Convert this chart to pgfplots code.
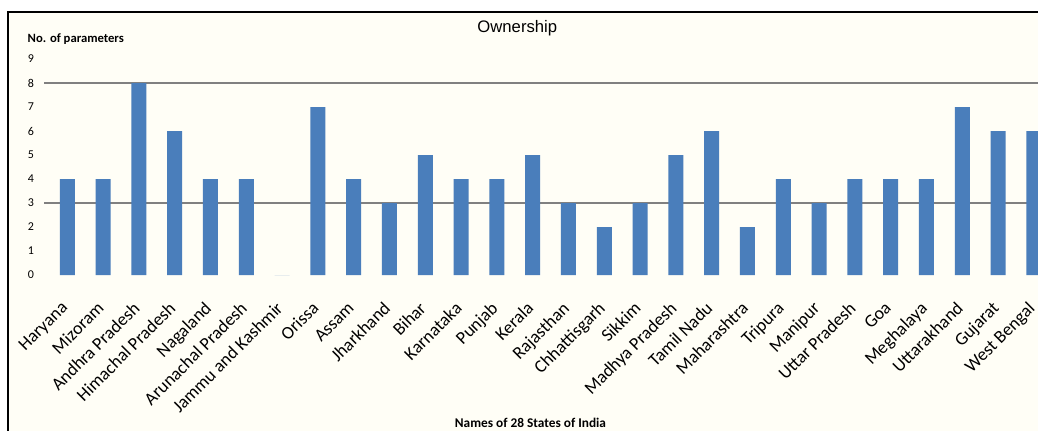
\documentclass[border=0pt]{standalone}
\usepackage{pgfplots}
\pgfplotsset{compat=1.18}
\usepackage{fontspec}
\setmainfont{Carlito}
\newfontfamily\titlefont{Liberation Sans}

\definecolor{barblue}{RGB}{74,126,187}
\definecolor{chartbg}{RGB}{255,254,246}
\definecolor{gridgray}{RGB}{128,128,128}

\begin{document}
\begin{tikzpicture}
  % page size and chart frame (units of 0.75pt)
  \path[use as bounding box] (0,0) rectangle (778.5pt,322.5pt);
  \clip (0,0) rectangle (778.5pt,322.5pt);
  \fill[chartbg] (6pt,-5pt) rectangle (790pt,313.5pt);
  \draw[line width=1.3pt] (6pt,-5pt) -- (6pt,313.5pt) -- (790pt,313.5pt);

  \begin{axis}[
    at={(33pt,116.25pt)}, anchor=south west,
    scale only axis,
    width=758.5pt, height=169.2pt,
    xmin=-0.65, xmax=27.6,
    ymin=0, ymax=9.4,
    axis line style={draw=none},
    major tick length=0pt,
    ytick={0,1,...,9},
    /pgf/number format/assume math mode=true,
    yticklabel style={font=\fontsize{9}{10}\selectfont, xshift=-4pt},
    extra y ticks={3,8},
    extra y tick labels={},
    extra y tick style={grid=major, major grid style={gridgray, line width=0.8pt}},
    xtick={0,1,...,27},
    xticklabels={Haryana, Mizoram, Andhra Pradesh, Himachal Pradesh, Nagaland,
      Arunachal Pradesh, Jammu and Kashmir, Orissa, Assam, Jharkhand, Bihar,
      Karnataka, Punjab, Kerala, Rajasthan, Chhattisgarh, Sikkim,
      Madhya Pradesh, Tamil Nadu, Maharashtra, Tripura, Manipur,
      Uttar Pradesh, Goa, Meghalaya, Uttarakhand, Gujarat, West Bengal},
    xticklabel style={font=\fontsize{13.5}{15}\selectfont, inner sep=0pt,
      xshift=-5.25pt, yshift=-19pt, rotate=45, anchor=north east},
    title={Ownership},
    title style={font=\titlefont\fontsize{12.5}{14}\selectfont,
      at={(axis description cs:0.468,1.06)}, anchor=center},
    ylabel={No. of parameters},
    ylabel style={font=\bfseries\fontsize{9.5}{11}\selectfont, rotate=-90,
      at={(axis description cs:-0.0208,1.046)}, anchor=west},
    xlabel={Names of 28 States of India},
    xlabel style={font=\bfseries\fontsize{10}{11}\selectfont,
      at={(axis description cs:0.481,-0.656)}, anchor=center},
    clip=false,
  ]
    % Jammu and Kashmir has no ownership parameters (height 0)
    \addplot[ybar, bar width=11.25pt, bar shift=0pt, fill=barblue, draw=none]
      coordinates {
        (0,4) (1,4) (2,8) (3,6) (4,4) (5,4) (6,0) (7,7) (8,4) (9,3)
        (10,5) (11,4) (12,4) (13,5) (14,3) (15,2) (16,3) (17,5) (18,6)
        (19,2) (20,4) (21,3) (22,4) (23,4) (24,4) (25,7) (26,6) (27,6)
      };
  \end{axis}
\end{tikzpicture}
\end{document}
